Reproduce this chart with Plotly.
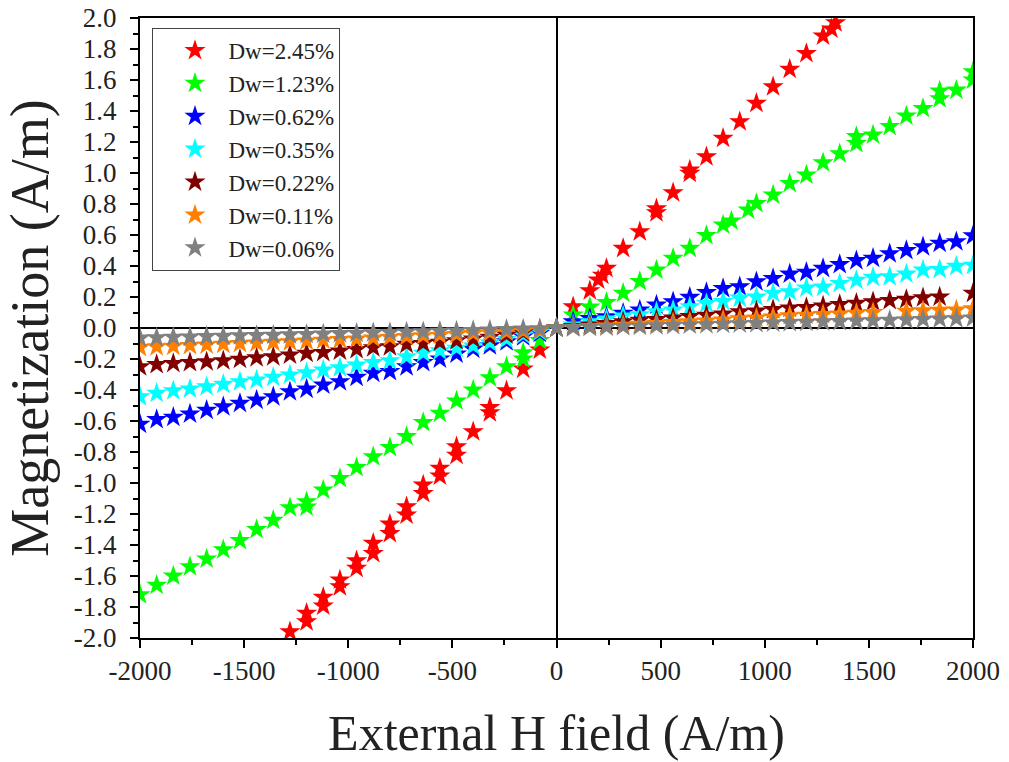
import plotly.graph_objects as go

# ---------------- data ----------------
H_NEG = [-2000, -1920, -1840, -1760, -1680, -1600, -1520, -1440, -1360, -1280,
         -1200, -1120, -1040, -960, -880, -800, -720, -640, -560, -480,
         -400, -320, -240, -160, -80, 0]
H_POS = [80, 160, 240, 320, 400, 480, 560, 640, 720, 800, 880, 960, 1040,
         1120, 1200, 1280, 1360, 1440, 1520, 1600, 1680, 1760, 1840, 1920, 2000]

labels = ["Dw=2.45%", "Dw=1.23%", "Dw=0.62%", "Dw=0.35%",
          "Dw=0.22%", "Dw=0.11%", "Dw=0.06%"]
colors = ["#FF0000", "#00FF00", "#0000FF", "#00FFFF",
          "#800000", "#FF8000", "#808080"]

# Dw = 2.45 %
red_neg_h = [-1280, -1200, -1120, -1040, -960, -880, -800, -720, -640, -560,
             -480, -400, -320, -240, -160, -80, 0]
red_neg_m = [-1.96, -1.84, -1.737, -1.626, -1.501, -1.389, -1.265, -1.153,
             -1.013, -0.905, -0.766, -0.669, -0.512, -0.404, -0.265, -0.142, 0.0]
red_neg2_h = [-1200, -1120, -1040, -960, -880, -800, -720, -640, -560, -480, -320]
red_neg2_m = [-1.895, -1.793, -1.669, -1.55, -1.454, -1.325, -1.206, -1.067,
              -0.955, -0.82, -0.546]
red_pos_h = [80, 160, 200, 220, 240, 320, 400, 480, 480, 560, 640, 640, 720,
             800, 880, 960, 1040, 1120, 1200, 1280, 1320, 1340]
red_pos_m = [0.137, 0.24, 0.31, 0.34, 0.385, 0.514, 0.621, 0.744, 0.77, 0.873,
             0.998, 1.02, 1.105, 1.224, 1.331, 1.45, 1.557, 1.669, 1.772,
             1.884, 1.93, 1.97]

# Dw = 1.23 %
green_neg_m = [-1.72, -1.66, -1.60, -1.54, -1.49, -1.43, -1.37, -1.30, -1.24,
               -1.16, -1.12, -1.045, -0.97, -0.90, -0.83, -0.77, -0.70, -0.61,
               -0.55, -0.47, -0.40, -0.32, -0.25, -0.16, -0.08, 0.0]
green_extra_h = [-1200, -160]
green_extra_m = [-1.155, -0.2]
green_pos_h = [80, 160, 240, 320, 400, 480, 560, 640, 720, 800, 840, 920, 960,
               1040, 1120, 1200, 1280, 1360, 1440, 1440, 1520, 1600, 1680,
               1760, 1840, 1840, 1920, 2000, 2000]
green_pos_m = [0.084, 0.135, 0.165, 0.224, 0.3, 0.374, 0.45, 0.514, 0.597,
               0.665, 0.69, 0.761, 0.804, 0.858, 0.933, 0.987, 1.066, 1.125,
               1.19, 1.235, 1.245, 1.3, 1.368, 1.417, 1.48, 1.53, 1.535, 1.6,
               1.654]

# Dw = 0.62 %
blue_neg_m = [-0.62, -0.59, -0.576, -0.555, -0.53, -0.508, -0.486, -0.465,
              -0.443, -0.411, -0.394, -0.368, -0.346, -0.318, -0.292, -0.28,
              -0.25, -0.222, -0.2, -0.168, -0.136, -0.114, -0.088, -0.056,
              -0.034, 0.0]
blue_pos_m = [0.04, 0.062, 0.073, 0.095, 0.116, 0.148, 0.17, 0.198, 0.229,
              0.255, 0.266, 0.299, 0.32, 0.348, 0.36, 0.385, 0.41, 0.435, 0.45,
              0.48, 0.5, 0.525, 0.547, 0.557, 0.595]

# Dw = 0.35 %
cyan_neg_m = [-0.443, -0.421, -0.404, -0.393, -0.378, -0.363, -0.346, -0.335,
              -0.318, -0.303, -0.288, -0.271, -0.256, -0.239, -0.222, -0.211,
              -0.185, -0.163, -0.146, -0.131, -0.116, -0.095, -0.073, -0.045,
              -0.024, 0.0]
cyan_pos_m = [0.02, 0.04, 0.058, 0.077, 0.086, 0.105, 0.116, 0.138, 0.159,
              0.172, 0.193, 0.2, 0.224, 0.234, 0.258, 0.264, 0.288, 0.308,
              0.327, 0.331, 0.348, 0.374, 0.378, 0.398, 0.405]

# Dw = 0.22 %
dred_neg_m = [-0.25, -0.235, -0.228, -0.222, -0.217, -0.211, -0.202, -0.191,
              -0.185, -0.174, -0.163, -0.157, -0.148, -0.138, -0.127, -0.12,
              -0.105, -0.099, -0.092, -0.082, -0.071, -0.06, -0.045, -0.03,
              -0.013, 0.0]
dred_pos_m = [0.01, 0.02, 0.03, 0.04, 0.05, 0.055, 0.065, 0.075, 0.082, 0.09,
              0.105, 0.11, 0.12, 0.13, 0.133, 0.142, 0.152, 0.16, 0.17, 0.178,
              0.185, 0.196, 0.2, None, 0.225]

# Dw = 0.11 %
orange_neg_m = [-0.125, -0.12, -0.117, -0.113, -0.11, -0.105, -0.1, -0.096,
                -0.092, -0.088, -0.083, -0.078, -0.074, -0.07, -0.065, -0.06,
                -0.055, -0.05, -0.046, -0.041, -0.036, -0.031, -0.026, -0.02,
                -0.012, 0.0]
orange_pos_m = [0.003, 0.008, 0.013, 0.018, 0.024, 0.03, 0.035, 0.04, 0.046,
                0.052, 0.06, 0.064, 0.072, 0.08, 0.082, 0.088, 0.09, 0.095,
                0.1, None, 0.108, 0.112, 0.115, 0.116, 0.125]

# Dw = 0.06 %
gray_neg_m = [-0.065, -0.062, -0.06, -0.058, -0.055, -0.053, -0.05, -0.048,
              -0.046, -0.044, -0.041, -0.039, -0.036, -0.034, -0.031, -0.029,
              -0.026, -0.024, -0.021, -0.019, -0.016, -0.013, -0.01, -0.007,
              -0.004, 0.0]
gray_pos_m = [0.002, 0.005, 0.007, 0.01, 0.012, 0.015, 0.017, 0.02, 0.022,
              0.025, 0.027, 0.03, 0.032, 0.035, 0.037, 0.04, 0.042, 0.045,
              0.047, 0.05, 0.052, 0.055, 0.058, 0.06, 0.065]

X_TICKS = [-2000, -1500, -1000, -500, 0, 500, 1000, 1500, 2000]
Y_TICKS = [-2.0, -1.8, -1.6, -1.4, -1.2, -1.0, -0.8, -0.6, -0.4, -0.2, 0.0,
           0.2, 0.4, 0.6, 0.8, 1.0, 1.2, 1.4, 1.6, 1.8, 2.0]

series = [
    (red_neg_h + red_neg2_h + red_pos_h, red_neg_m + red_neg2_m + red_pos_m),
    (H_NEG + green_extra_h + green_pos_h, green_neg_m + green_extra_m + green_pos_m),
    (H_NEG + H_POS, blue_neg_m + blue_pos_m),
    (H_NEG + H_POS, cyan_neg_m + cyan_pos_m),
    (H_NEG + H_POS, dred_neg_m + dred_pos_m),
    (H_NEG + H_POS, orange_neg_m + orange_pos_m),
    (H_NEG + H_POS, gray_neg_m + gray_pos_m),
]

FONT = "Liberation Serif"
TXT = "#222222"

fig = go.Figure()
for (hx, my), name, col in zip(series, labels, colors):
    fig.add_trace(go.Scatter(
        x=hx, y=my, mode="markers", name=name,
        marker=dict(symbol="star", size=16, color=col, line=dict(width=0)),
    ))

axis_common = dict(
    showgrid=False, showline=True, linecolor="black", linewidth=2,
    mirror=True, ticks="outside", ticklen=8, tickwidth=1.5, tickcolor="black",
    zeroline=True, zerolinecolor="black", zerolinewidth=2,
    tickfont=dict(family=FONT, size=27, color=TXT),
    automargin=False, ticklabeloverflow="allow",
)

fig.update_xaxes(
    range=[-2000, 2000], tickvals=X_TICKS,
    ticktext=[str(v) for v in X_TICKS],
    minor=dict(dtick=250, ticks="outside", ticklen=5, tickcolor="black"),
    ticklabelstandoff=0,
    title=dict(text="External H field (A/m)",
               font=dict(family=FONT, size=50, color=TXT), standoff=30),
    **axis_common,
)
fig.update_yaxes(
    range=[-2.0, 2.0], tickvals=Y_TICKS,
    ticktext=[f"{v:.1f}" for v in Y_TICKS],
    minor=dict(dtick=0.1, ticks="outside", ticklen=5, tickcolor="black"),
    ticklabelstandoff=8,
    title=dict(text="Magnetization (A/m)\u00a0\u00a0",
               font=dict(family=FONT, size=54, color=TXT), standoff=10),
    **axis_common,
)

fig.update_layout(
    width=1009, height=762,
    margin=dict(l=140, r=36, t=18, b=124),
    plot_bgcolor="white", paper_bgcolor="white",
    legend=dict(
        x=0.015, y=0.984, xanchor="left", yanchor="top",
        bgcolor="white", bordercolor="#444444", borderwidth=1,
        font=dict(family=FONT, size=23, color=TXT),
        itemwidth=57, indentation=8, tracegroupgap=0,
    ),
)

# remove the default 8px page margin so the figure fills the window exactly
fig.write_html("out.html",
               config={"displayModeBar": False},
               post_script="document.body.style.margin='0px';")
